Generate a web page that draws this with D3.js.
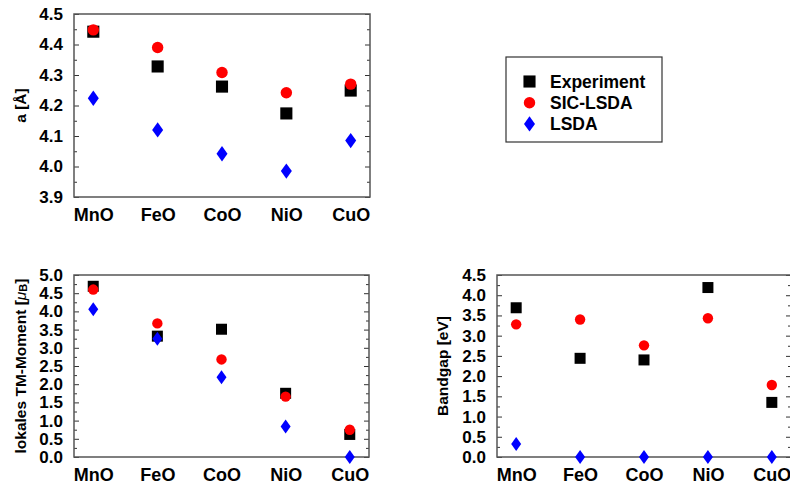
<!DOCTYPE html>
<html>
<head>
<meta charset="utf-8">
<script src="https://cdn.jsdelivr.net/npm/d3@7"></script>
<style>
  body { margin: 0; background: #fff; }
  svg { display: block; font-family: "Liberation Sans", Arial, sans-serif; font-weight: bold; }
</style>
</head>
<body>
<svg id="chart" width="790" height="489"></svg>
<script>
// compounds
var oxides = ["MnO", "FeO", "CoO", "NiO", "CuO"];

// lattice constant a [A]
var aExp  = [4.442, 4.328, 4.262, 4.174, 4.249];
var aSic  = [4.448, 4.390, 4.308, 4.242, 4.270];
var aLsda = [4.224, 4.120, 4.042, 3.985, 4.085];

// local TM moment [muB]
var momExp  = [4.69, 3.32, 3.51, 1.75, 0.62];
var momSic  = [4.60, 3.67, 2.68, 1.66, 0.75];
var momLsda = [4.06, 3.25, 2.19, 0.84, 0.00];

// band gap [eV]
var gapExp  = [3.69, 2.44, 2.40, 4.19, 1.35];
var gapSic  = [3.28, 3.40, 2.76, 3.43, 1.78];
var gapLsda = [0.32, 0.00, 0.00, 0.00, 0.00];

var seriesNames = ["Experiment", "SIC-LSDA", "LSDA"];

var svg = d3.select("#chart");

// #####################################################
// draw one marker
//
function marker (g, kind, cx, cy, big) {
  var s = big ? 1.1 : 1;
  if (kind == 0) {
    g.append("rect")
      .attr("x", cx - 5.5 * s).attr("y", cy - 5.5 * s)
      .attr("width", 11 * s).attr("height", 11 * s)
      .attr("fill", "#000");
  } else if (kind == 1) {
    g.append("circle")
      .attr("cx", cx).attr("cy", cy).attr("r", 5.2 * s)
      .attr("fill", "#ff0000");
  } else {
    var w = 5 * s, h = 7 * s;
    g.append("path")
      .attr("d", "M" + cx + "," + (cy - h) + "L" + (cx + w) + "," + cy +
                 "L" + cx + "," + (cy + h) + "L" + (cx - w) + "," + cy + "Z")
      .attr("fill", "#0000ff");
  }
}

// #####################################################
// one panel
//
function panel (box, yDomain, yStep, fmt, series, title, titleX) {
  var x = d3.scaleLinear().domain([-0.3, 4.3]).range([box.left, box.right]);
  var y = d3.scaleLinear().domain(yDomain).range([box.bottom, box.top]);

  var major = d3.range(yDomain[0], yDomain[1] + yStep / 2, yStep);
  var minor = d3.range(yDomain[0] + yStep / 2, yDomain[1], yStep);

  var g = svg.append("g");

  // minor ticks left + right
  g.append("g")
    .attr("transform", "translate(" + box.left + ",0)")
    .call(d3.axisLeft(y).tickValues(minor).tickSize(-3).tickFormat(""));
  g.append("g")
    .attr("transform", "translate(" + box.right + ",0)")
    .call(d3.axisRight(y).tickValues(minor).tickSize(-3).tickFormat(""));
  g.append("g")
    .attr("transform", "translate(" + box.right + ",0)")
    .call(d3.axisRight(y).tickValues(major).tickSize(-5).tickFormat(""));

  // left axis with labels
  var ya = g.append("g")
    .attr("transform", "translate(" + box.left + ",0)")
    .call(d3.axisLeft(y).tickValues(major).tickSize(-5).tickPadding(11).tickFormat(d3.format(fmt)));
  ya.selectAll("text").attr("font-size", 17).attr("font-family", null).attr("fill", "#000");

  // category labels
  var xa = g.append("g")
    .attr("transform", "translate(0," + box.bottom + ")")
    .call(d3.axisBottom(x).tickValues(d3.range(oxides.length)).tickSize(0).tickPadding(11)
      .tickFormat(function (i) { return oxides[i]; }));
  xa.selectAll("text").attr("font-size", 18).attr("font-family", null).attr("fill", "#000");

  g.selectAll(".domain").remove();
  g.selectAll(".tick line").attr("stroke", "#333").attr("stroke-width", 1);

  // frame
  g.append("rect")
    .attr("x", box.left).attr("y", box.top)
    .attr("width", box.right - box.left).attr("height", box.bottom - box.top)
    .attr("fill", "none").attr("stroke", "#555").attr("stroke-width", 1.5);

  // points
  var pts = g.append("g");
  series.forEach(function (vals, k) {
    vals.forEach(function (v, i) {
      marker(pts, k, x(i), y(v), box.big);
    });
  });

  // y title
  var t = g.append("text")
    .attr("transform", "translate(" + titleX + "," + ((box.top + box.bottom) / 2) + ") rotate(-90)")
    .attr("text-anchor", "middle")
    .attr("dominant-baseline", "central")
    .attr("font-size", 15.5);
  title(t);
}

panel({left: 74, right: 370, top: 14, bottom: 197, big: true},
      [3.9, 4.5], 0.1, ".1f", [aExp, aSic, aLsda],
      function (t) { t.text("a [Å]"); }, 20);

panel({left: 74, right: 369, top: 275, bottom: 457, big: false},
      [0, 5], 0.5, ".1f", [momExp, momSic, momLsda],
      function (t) {
        t.append("tspan").text("lokales TM-Moment [");
        t.append("tspan").attr("font-style", "italic").attr("font-weight", "normal").text("μ");
        t.append("tspan").attr("font-size", 11).attr("dy", 3).text("B");
        t.append("tspan").attr("dy", -3).text("]");
      }, 20);

panel({left: 497, right: 791, top: 275, bottom: 457, big: false},
      [0, 4.5], 0.5, ".1f", [gapExp, gapSic, gapLsda],
      function (t) { t.text("Bandgap [eV]"); }, 442);

// legend
var lg = svg.append("g");
lg.append("rect")
  .attr("x", 506).attr("y", 57).attr("width", 156).attr("height", 85)
  .attr("fill", "#fff").attr("stroke", "#333").attr("stroke-width", 1.2);
seriesNames.forEach(function (name, k) {
  var cy = 81.5 + k * 21.2;
  marker(lg, k, 529.5, cy, true);
  lg.append("text")
    .attr("x", 550).attr("y", cy)
    .attr("dominant-baseline", "central")
    .attr("font-size", 17.5)
    .text(name);
});
</script>
</body>
</html>
